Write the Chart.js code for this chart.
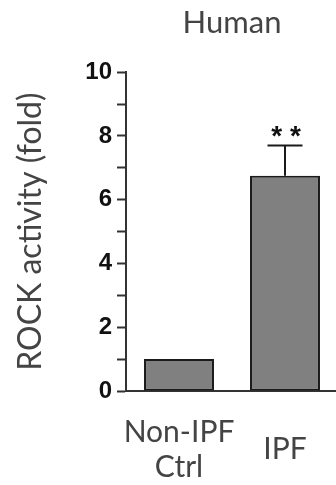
<!DOCTYPE html>
<html>
<head>
<meta charset="utf-8">
<script src="https://cdn.jsdelivr.net/npm/chart.js@4/dist/chart.umd.min.js"></script>
<style>
  html, body { margin: 0; padding: 0; background: #fff; overflow: hidden; }
  #wrap { width: 338px; height: 485px; }
</style>
</head>
<body>
<div id="wrap"><canvas id="c" width="338" height="485"></canvas></div>
<script>
// Groups, mean fold change and SEM
const categories = [['Non-IPF', 'Ctrl'], ['IPF']];
const values = [1.0, 6.75];
const errors = [0, 0.95];
const significance = ['', '**'];
const yTicks = [0, 2, 4, 6, 8, 10];

const textFont = 'Lato, "Open Sans", sans-serif';
const boldFont = '"Liberation Sans", Arial, sans-serif';

// Error bars and significance marks on top of each bar
const errorBarPlugin = {
  id: 'errorBars',
  afterDatasetsDraw(chart) {
    const ctx = chart.ctx;
    const y = chart.scales.y;
    const meta = chart.getDatasetMeta(0);
    meta.data.forEach((bar, i) => {
      const v = values[i];
      const e = errors[i];
      const top = y.getPixelForValue(v + e);
      ctx.save();
      if (e > 0) {
        const half = bar.width / 4;
        ctx.strokeStyle = '#1a1a1a';
        ctx.lineWidth = 2;
        ctx.beginPath();
        ctx.moveTo(bar.x, y.getPixelForValue(v));
        ctx.lineTo(bar.x, top);
        ctx.moveTo(bar.x - half, top);
        ctx.lineTo(bar.x + half, top);
        ctx.stroke();
      }
      if (significance[i]) {
        ctx.fillStyle = '#111';
        ctx.font = 'bold 28px ' + boldFont;
        ctx.textAlign = 'center';
        ctx.textBaseline = 'alphabetic';
        ctx.fillText(significance[i].split('').join(' '), bar.x + 1, top - 1);
      }
      ctx.restore();
    });
  }
};

new Chart(document.getElementById('c'), {
  type: 'bar',
  data: {
    labels: categories,
    datasets: [{
      data: values,
      backgroundColor: '#808080',
      borderColor: '#1a1a1a',
      borderWidth: 2,
      borderSkipped: false,
      barPercentage: 0.66,
      categoryPercentage: 1.0
    }]
  },
  options: {
    responsive: false,
    animation: false,
    layout: { padding: 0 },
    plugins: {
      legend: { display: false },
      tooltip: { enabled: false },
      title: {
        display: true,
        text: 'Human',
        fullSize: false,
        color: '#444',
        font: { family: textFont, size: 31, weight: 'normal', lineHeight: 1.2 },
        padding: { top: 4, bottom: 31 }
      }
    },
    scales: {
      x: {
        grid: { display: false, drawTicks: false },
        border: { display: true, color: '#333', width: 2 },
        afterFit(scale) {
          scale.height = 94;
          scale.paddingLeft = 0;
          scale.paddingRight = 0;
        },
        ticks: {
          color: '#444',
          padding: 41,
          autoSkip: false,
          crossAlign: 'center',
          maxRotation: 0,
          minRotation: 0,
          font: { family: textFont, size: 30, weight: 'normal', lineHeight: 1.17 }
        }
      },
      y: {
        min: 0,
        max: 10,
        afterFit(scale) { scale.width = 126; },
        border: { display: true, color: '#333', width: 2 },
        grid: {
          drawOnChartArea: false,
          drawTicks: true,
          tickLength: 9,
          tickWidth: 2,
          tickColor: '#333'
        },
        ticks: {
          stepSize: 1,
          autoSkip: false,
          padding: 5,
          color: '#111',
          font: { family: boldFont, size: 24, weight: 'bold' },
          callback: (v) => (yTicks.includes(v) ? String(v) : '')
        },
        title: {
          display: true,
          text: 'ROCK activity (fold)',
          color: '#444',
          font: { family: textFont, size: 32, weight: 'normal', lineHeight: 1.2 },
          padding: { top: 11, bottom: 0 }
        }
      }
    }
  },
  plugins: [errorBarPlugin]
});
</script>
</body>
</html>
